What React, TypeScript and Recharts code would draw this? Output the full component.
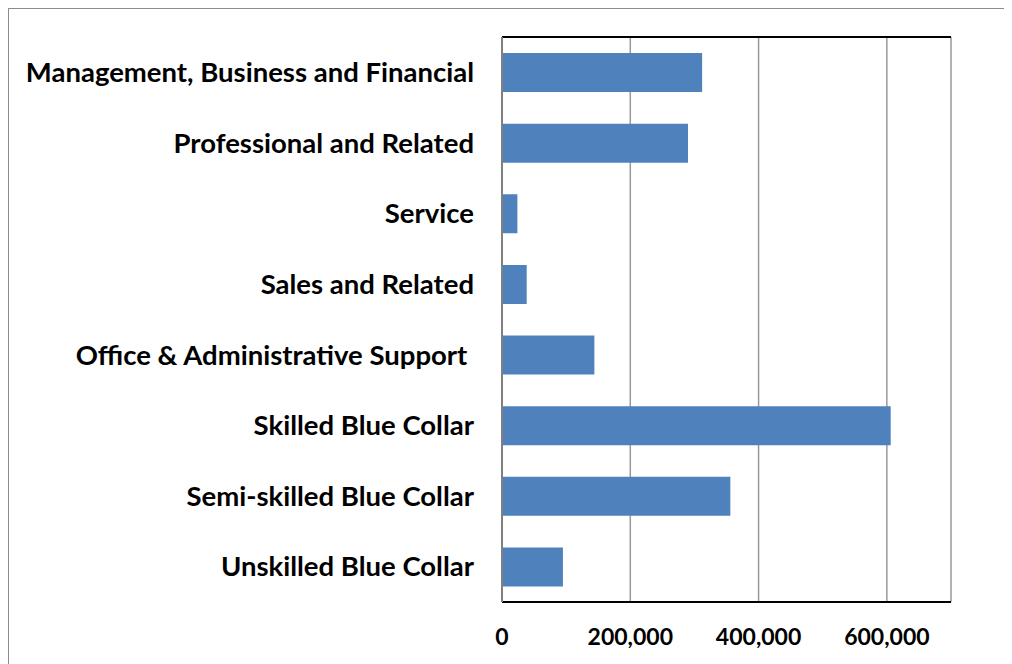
import React from "react";
import { BarChart, Bar, XAxis, YAxis, CartesianGrid } from "recharts";

const categories = [
  "Management, Business and Financial",
  "Professional and Related",
  "Service",
  "Sales and Related",
  "Office & Administrative Support\u00A0",
  "Skilled Blue Collar",
  "Semi-skilled Blue Collar",
  "Unskilled Blue Collar",
];
const values = [312000, 290000, 24000, 38500, 144000, 606000, 356000, 95000];
const xTicks = [0, 200000, 400000, 600000];

const data = categories.map((c, i) => ({ name: c, value: values[i] }));

const family = "Lato, 'Open Sans', sans-serif";
const labelFont = { fontFamily: family, fontWeight: 700, fontSize: 27.5, fill: "#000" };
const tickFont = { fontFamily: family, fontWeight: 700, fontSize: 23, fill: "#000" };

export default function App() {
  return (
    <div
      style={{
        width: 1003,
        height: 655,
        borderTop: "1px solid #8c8c8c",
        borderLeft: "1px solid #8c8c8c",
        overflow: "hidden",
        background: "#fff",
      }}
    >
      <BarChart
        width={1003}
        height={655}
        data={data}
        layout="vertical"
        margin={{ top: 27, right: 61, bottom: 0, left: 0 }}
        barSize={39}
      >
        <CartesianGrid
          xAxisId="main"
          yAxisId="main"
          horizontal={false}
          vertical={true}
          stroke="#999"
          strokeWidth={1.5}
        />
        <XAxis
          type="number"
          xAxisId="main"
          domain={[0, 700000]}
          ticks={xTicks}
          tickFormatter={(v: number) => v.toLocaleString("en-US")}
          axisLine={{ stroke: "#000", strokeWidth: 2 }}
          tickLine={false}
          tickSize={0}
          tickMargin={27}
          height={62}
          tick={tickFont}
          interval={0}
        />
        <XAxis
          type="number"
          xAxisId="top"
          orientation="top"
          domain={[0, 700000]}
          ticks={xTicks}
          axisLine={{ stroke: "#000", strokeWidth: 2 }}
          tick={false}
          tickLine={false}
          height={1}
        />
        <YAxis
          type="category"
          dataKey="name"
          yAxisId="main"
          width={493}
          axisLine={{ stroke: "#808080", strokeWidth: 2 }}
          tickLine={false}
          tickSize={0}
          tickMargin={28}
          tick={labelFont}
          interval={0}
        />
        <YAxis
          type="category"
          dataKey="name"
          yAxisId="right"
          orientation="right"
          width={0}
          axisLine={{ stroke: "#000", strokeWidth: 2 }}
          tick={false}
          tickLine={false}
        />
        <Bar dataKey="value" xAxisId="main" yAxisId="main" fill="#4F81BD" isAnimationActive={false} />
      </BarChart>
    </div>
  );
}
